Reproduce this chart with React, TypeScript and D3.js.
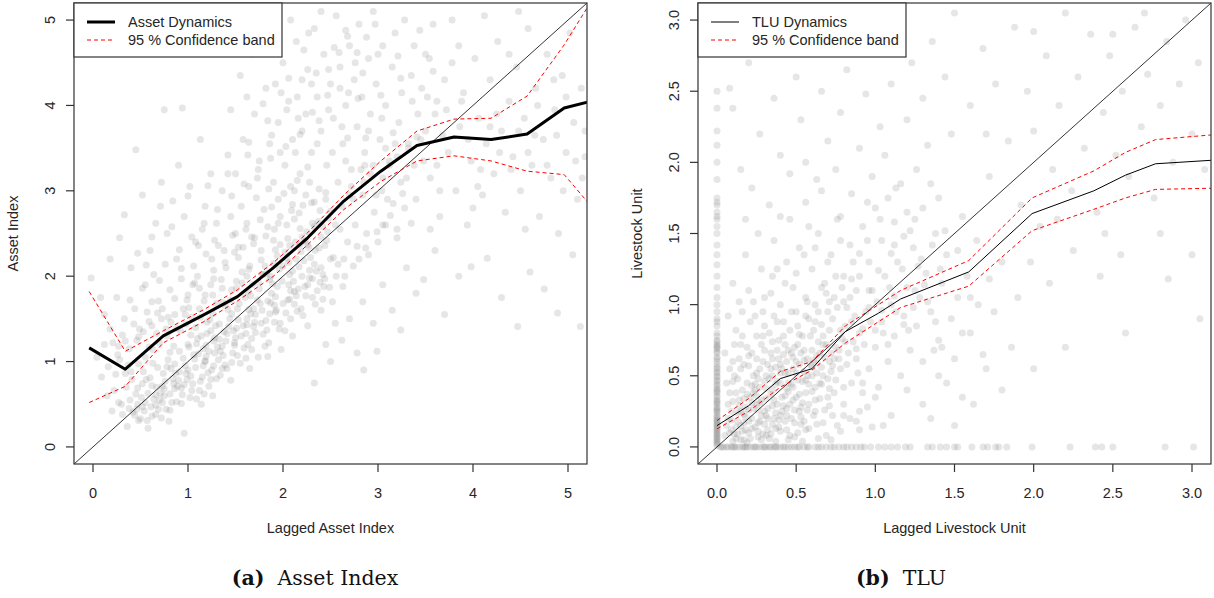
import React from 'react';
import * as d3 from 'd3';

type Pt = [number, number];

// ---------- Panel (a): Asset Index ----------
const assetTicks = [0, 1, 2, 3, 4, 5];
const assetGridX = [-0.04, 0.34, 0.74, 1.17, 1.52, 1.9, 2.26, 2.64, 3.03, 3.41, 3.8, 4.19, 4.57, 4.96, 5.35];
const assetMean = [1.16, 0.91, 1.3, 1.55, 1.76, 2.1, 2.45, 2.88, 3.23, 3.53, 3.63, 3.6, 3.665, 3.97, 4.08];
const assetUpper = [1.82, 1.12, 1.36, 1.61, 1.84, 2.16, 2.51, 2.95, 3.35, 3.7, 3.84, 3.85, 4.11, 4.71, 5.41];
const assetLower = [0.52, 0.71, 1.22, 1.47, 1.71, 2.0, 2.37, 2.78, 3.11, 3.35, 3.41, 3.35, 3.23, 3.19, 2.68];

const assetPointsA: Pt[] = [
  [0.36,0.24],[0.42,0.41],[0.5,0.33],[0.55,0.52],[0.61,0.47],[0.58,0.63],[0.66,0.38],[0.7,0.55],[0.73,0.71],[0.77,0.44],[0.81,0.62],[0.84,0.8],[0.88,0.53],[0.93,0.69],[0.96,0.16],[0.98,0.86],[1.02,0.58],[1.05,0.74],[1.08,0.93],[1.12,0.66],[1.15,0.82],[1.18,1.0],[1.22,0.71],[1.25,0.9],[1.28,1.1],[0.45,0.62],[0.52,0.74],[0.6,0.81],[0.68,0.93],[0.74,0.86],[0.79,1.02],[0.86,0.97],[0.91,1.12],[0.95,1.04],[1.0,1.2],[1.06,1.08],[1.1,1.27],[1.16,1.15],[1.2,1.33],[1.27,1.24],[0.3,0.5],[0.35,0.7],[0.4,0.88],[0.48,0.97],[0.55,1.05],[0.63,1.14],[0.7,1.22],[0.78,1.3],[0.85,1.18],[0.92,1.36],[0.98,1.44],[1.04,1.52],[0.24,0.85],[0.28,1.02],[0.38,1.15],[0.46,1.25],[0.53,1.35],[0.62,1.42],[0.72,1.5],[0.82,1.46],[0.15,0.6],[0.2,0.42],[0.12,1.2],[0.18,1.38],[0.33,1.5],[0.44,1.62],[0.58,0.22],[0.8,0.3],[0.67,0.7],[0.75,0.6],[0.9,0.78],[1.0,0.9],[0.86,0.68],[0.72,0.34],[1.14,0.5],[1.26,0.6],[1.3,0.8],[0.64,0.56],[0.54,0.42],[0.47,0.5],
  [1.32,1.02],[1.36,1.18],[1.38,1.35],[1.41,0.92],[1.44,1.5],[1.47,1.1],[1.5,1.28],[1.52,1.62],[1.55,0.98],[1.58,1.42],[1.6,1.75],[1.63,1.2],[1.66,1.56],[1.68,1.9],[1.71,1.34],[1.74,1.05],[1.76,1.68],[1.79,2.02],[1.82,1.48],[1.85,1.22],[1.88,1.8],[1.9,2.15],[1.93,1.6],[1.96,1.38],[1.99,1.94],[2.02,2.28],[2.05,1.72],[2.08,1.5],[2.1,2.06],[2.13,2.4],[2.16,1.85],[2.19,1.62],[2.22,2.18],[2.25,2.52],[2.28,1.98],[2.31,1.75],[2.34,2.3],[2.37,2.64],[2.4,2.1],[2.43,1.88],[2.46,2.42],[2.5,2.76],[2.53,2.22],[2.56,2.0],[2.6,2.55],
  [1.12,1.62],[1.18,1.78],[1.24,1.9],[1.3,1.68],[1.35,1.96],[1.4,2.1],[1.46,1.84],[1.53,2.22],[1.58,2.34],[1.64,2.08],[1.7,2.45],[1.77,2.3],[1.84,2.58],[1.9,2.42],[1.97,2.7],[2.04,2.6],[2.1,2.84],[2.17,2.74],[2.24,2.95],[2.3,2.86],[2.38,3.02],[2.45,2.9],[1.08,1.4],[1.14,1.3],[1.2,1.46],[1.26,1.56],[1.33,1.44],[1.39,1.66],[1.45,1.72],[1.51,1.86],[1.57,1.92],[1.62,2.0],[1.69,1.62],[1.75,1.85],[1.81,2.12],[1.87,2.0],[1.94,2.24],[2.0,2.12],[2.07,2.36],[2.14,2.2],[2.2,2.46],[2.27,2.34],[2.33,2.58],[2.4,2.46],[2.48,2.68],[2.55,2.6],
  [1.22,1.12],[1.28,1.28],[1.34,0.84],[1.4,1.24],[1.48,1.36],[1.56,1.3],[1.62,1.5],[1.7,1.46],[1.78,1.6],[1.86,1.56],[1.92,1.76],[2.0,1.68],[2.06,1.9],[2.12,1.82],[2.2,2.0],[2.26,1.9],[2.35,2.06],[2.42,2.02],[2.5,2.2],[2.58,2.14],[1.16,0.95],[1.45,0.78],[1.65,0.92],[1.84,1.06],[1.98,1.14],[2.1,1.3],[2.26,1.42],[2.4,1.6],[2.52,1.7],[1.38,2.3],[1.5,2.5],[1.62,2.62],[1.8,2.78],[1.95,2.9],[2.08,3.05],[1.25,2.2],[1.1,2.0],[1.0,1.78],[0.95,1.62],[1.05,1.9],[1.28,2.42],[1.45,2.7],[1.72,2.92],[1.56,2.82],
  [-0.02,1.98],[0.08,1.75],[0.18,2.2],[0.33,2.72],[0.45,3.48],[0.52,2.95],[0.28,2.45],[0.6,2.3],[0.66,2.62],[0.72,3.1],[0.78,2.5],[0.84,2.88],[0.9,3.3],[0.96,2.7],[1.02,3.05],[1.08,2.4],[1.13,3.6],[1.18,2.82],[1.24,3.2],[0.75,3.95],[0.94,3.97],[1.3,2.62],[1.36,3.0],[1.42,3.42],[0.4,2.1],[0.55,1.9],[0.7,1.95],[0.25,1.75],[0.12,1.55],[0.62,1.7],[0.88,2.2],[1.15,2.55],
  [1.5,3.2],[1.58,3.6],[1.64,3.05],[1.7,3.9],[1.75,3.35],[1.82,4.2],[1.86,3.55],[1.9,3.1],[1.95,3.8],[2.0,4.5],[2.02,3.3],[2.06,4.05],[2.1,3.6],[2.14,4.75],[2.18,3.2],[2.2,4.3],[2.24,3.9],[2.26,4.42],[2.3,3.45],[2.33,4.9],[2.36,4.1],[2.4,3.7],[2.43,4.6],[2.46,3.3],[2.5,4.25],[2.53,3.85],[2.56,5.05],[2.6,4.45],[2.63,3.55],[2.66,4.0],[2.68,4.81],[2.7,4.7],[2.72,3.25],[2.75,4.3],[2.78,3.75],[2.8,4.95],[2.83,4.1],[2.86,3.45],[2.9,4.55],[2.92,3.9],[2.95,5.1],[2.98,4.25],[3.02,3.6],[3.05,4.7],[3.08,4.0],[3.12,3.35],[3.15,4.45],[3.18,4.85],[3.22,3.8],[3.25,4.15],[3.28,5.0],[3.32,3.55],[3.35,4.35],[3.38,4.7],[3.42,3.9],[3.46,4.2],[3.5,3.7],[3.54,4.55],[3.58,4.95],[3.62,4.05],
  [1.55,4.35],[1.68,4.6],[1.78,4.85],[1.92,4.25],[2.08,5.0],[2.22,4.65],[2.4,5.1],[1.45,3.95],[1.62,4.1],[2.12,3.0],[2.28,3.1],[2.45,2.98],[2.58,3.1],[2.7,2.95],[2.85,3.1],[2.95,3.3],[3.05,3.15],[2.62,3.75],[2.76,4.5],[2.88,4.8],[3.0,4.6],[2.54,4.68],[2.66,4.88],[2.78,4.62],[2.48,3.95],[2.36,3.55],[2.2,3.7],[2.04,3.95],[1.88,3.65],[1.98,4.15],[2.15,4.1],[2.3,4.25],[2.6,4.2],[2.9,3.7],[3.2,3.4],[3.38,3.3],
  [3.4,2.9],[3.45,3.6],[3.5,4.6],[3.55,3.15],[3.6,3.9],[3.65,2.7],[3.7,4.3],[3.74,3.45],[3.78,5.0],[3.82,3.0],[3.86,3.75],[3.9,4.15],[3.94,2.6],[3.98,3.35],[4.02,4.55],[4.06,3.85],[4.1,2.95],[4.14,3.55],[4.18,4.3],[4.22,3.2],[4.26,4.75],[4.3,3.7],[4.34,2.75],[4.38,4.05],[4.42,3.4],[4.46,4.45],[4.5,3.0],[4.54,3.85],[4.58,4.9],[4.62,3.3],[4.66,4.2],[4.7,2.7],[4.74,3.6],[4.78,4.6],[4.82,3.15],[4.86,3.95],[4.9,2.5],[4.94,4.35],[4.98,3.45],[5.02,4.85],[5.06,3.8],[5.1,2.9],[5.14,4.2],[5.18,3.4],[3.62,3.3],[3.95,3.6],[4.25,3.9],[4.0,2.8],[4.4,3.25],[4.65,3.65],[3.85,4.7],[4.12,5.05],[4.48,5.1],[3.52,4.1],[3.72,3.95],[4.85,4.3],[5.15,3.15],[4.95,3.0],[4.55,2.55],
  [2.33,0.75],[2.5,1.0],[2.62,1.25],[2.78,1.1],[2.85,0.9],[2.99,1.12],[2.7,1.5],[2.84,1.7],[2.95,1.45],[3.05,1.9],[3.15,1.6],[3.24,1.37],[3.3,2.1],[3.4,1.8],[3.48,1.96],[3.6,2.3],[3.7,1.55],[3.85,2.0],[3.98,2.11],[4.15,2.21],[4.3,1.75],[4.47,1.41],[4.6,2.05],[4.75,1.85],[4.89,1.57],[5.13,1.41],[5.05,2.25],[3.2,2.45],[2.9,2.25],[2.65,2.0],[2.78,2.35],[3.05,2.6],[3.35,2.62],[2.55,1.45],[2.45,1.2],[3.55,2.55],
  [2.62,2.82],[2.68,2.4],[2.72,3.05],[2.76,2.6],[2.8,2.2],[2.84,2.95],[2.88,2.5],[2.92,3.2],[2.96,2.75],[3.0,2.4],[3.04,3.0],[3.08,2.6],[3.12,3.3],[3.16,2.85],[3.2,2.55],[3.24,3.1],[3.28,2.8],[3.32,3.5],[2.64,2.2],[2.74,2.9],[2.86,3.3],[2.98,2.95],[3.1,2.9],[3.18,3.55],
];
const assetPointsB: Pt[] = [
  [0.57,0.31],[0.83,0.52],[0.69,0.44],[1.13,0.77],[0.94,0.61],[1.37,1.07],[1.21,0.87],[1.59,1.16],[1.46,0.99],[1.83,1.37],[1.67,1.27],[2.03,1.57],[1.91,1.46],[2.24,1.77],[2.12,1.67],[2.44,1.97],[2.36,1.83],[0.62,0.72],[0.87,0.86],[1.07,1.03],[1.33,1.26],[1.53,1.49],[1.73,1.72],[1.94,1.88],[2.17,2.11],[2.38,2.33],[0.51,0.58],[0.76,0.77],[0.97,0.95],[1.19,1.19],[1.43,1.41],[1.64,1.61],[1.87,1.69],[2.07,2.02],[2.29,2.22],[0.44,0.37],[0.66,0.61],[0.91,0.88],[1.11,1.09],[1.31,1.17],[1.51,1.39],[1.71,1.55],[1.89,1.91],[2.11,1.94],[2.33,2.14],
  [0.41,0.79],[0.63,0.98],[0.81,1.11],[1.03,1.31],[1.23,1.49],[1.42,1.61],[1.63,1.82],[1.83,2.03],[2.04,2.21],[2.23,2.41],[2.42,2.58],[0.37,0.96],[0.59,1.17],[0.77,1.38],[0.97,1.55],[1.17,1.71],[1.36,1.86],[1.57,2.05],[1.77,2.19],[1.97,2.37],[2.18,2.56],[2.39,2.77],[0.27,1.18],[0.49,1.38],[0.68,1.57],[0.86,1.74],[1.07,1.92],[1.27,2.07],[1.49,2.28],[1.69,2.38],[1.91,2.55],[2.12,2.67],[2.33,2.87],
  [0.73,0.52],[0.96,0.73],[1.17,0.62],[1.39,0.96],[1.61,1.04],[1.81,1.18],[2.02,1.36],[2.21,1.54],[2.42,1.73],[2.63,1.88],[2.74,2.12],[2.87,2.33],[2.99,2.52],[3.13,2.71],[3.26,2.97],[0.53,0.88],[0.78,0.94],[1.01,1.17],[1.24,1.36],[1.46,1.56],[1.66,1.77],[1.86,1.96],[2.06,2.16],[2.26,2.37],[2.47,2.52],
  [0.31,0.38],[0.39,0.55],[0.47,0.69],[0.34,0.86],[0.22,0.66],[0.27,0.52],[0.16,0.94],[0.09,0.82],[0.04,1.05],[0.21,1.22],
  [1.73,3.15],[1.97,3.45],[2.16,3.85],[2.35,4.38],[2.52,3.45],[2.69,4.15],[2.87,3.62],[3.03,4.12],[3.21,4.58],[3.41,3.63],[1.84,3.82],[2.06,4.32],[2.27,4.85],[2.47,4.12],[2.66,3.35],[2.84,4.38],[3.04,3.85],[3.24,4.32],[3.44,4.88],[2.38,3.82],[2.59,4.62],[2.79,4.08],[2.97,4.95],[3.16,3.68],[3.36,4.05],[1.63,3.42],[1.79,4.02],[1.93,4.62],[2.13,3.45],[2.31,3.92],[2.48,4.42],[2.68,3.62],[2.82,3.25],[3.08,3.5],[3.3,3.15],
  [3.48,3.35],[3.68,3.65],[3.88,4.05],[4.08,3.25],[4.28,3.45],[4.48,3.7],[4.68,4.0],[4.88,3.65],[5.08,3.35],[3.58,4.4],[3.78,4.5],[4.18,3.75],[4.38,4.6],[4.58,3.45],[4.78,3.3],[4.98,4.1],[5.18,3.7],[3.65,3.0],[4.05,3.05],
  [0.66,0.49],[0.89,0.71],[1.04,0.66],[1.27,0.95],[1.49,1.19],[1.69,1.41],[1.92,1.58],[2.14,1.77],[2.31,1.97],[0.46,0.44],[0.75,0.68],[0.99,0.79],[1.19,1.06],[1.41,1.33],[1.62,1.43],[1.84,1.71],[2.08,1.83],[2.28,2.07],[0.56,0.79],[0.82,0.92],[1.09,1.21],[1.29,1.42],[1.54,1.68],[1.74,1.93],[1.96,2.08],[2.19,2.29],[2.44,2.36],
];
const assetPointsC: Pt[] = [
  [0.31,1.31],[0.43,1.44],[0.57,1.58],[0.69,1.71],[0.81,1.84],[0.93,1.97],[1.06,2.12],[1.19,2.26],[1.32,2.36],[1.47,2.48],[1.61,2.55],[1.76,2.66],[1.88,2.81],[2.01,2.97],[2.15,3.12],[2.26,3.28],
  [0.39,1.72],[0.52,1.86],[0.64,2.02],[0.76,2.14],[0.91,2.31],[1.04,2.46],[1.17,2.62],[1.31,2.78],[1.46,2.94],[1.59,3.08],[1.74,3.25],[1.87,3.38],[2.03,3.52],[2.18,3.66],
  [0.26,1.08],[0.34,1.24],[0.48,1.29],[0.59,1.47],[0.73,1.62],[0.86,1.55],[0.99,1.72],[1.12,1.86],[1.27,1.97],[1.39,2.16],[1.53,2.34],[1.67,2.46],[1.82,2.47],[1.95,2.62],[2.09,2.77],[2.21,2.83],
  [0.67,1.33],[0.79,1.52],[0.88,1.39],[1.01,1.63],[1.13,1.52],[1.26,1.78],[1.37,1.69],[1.51,1.94],[1.65,2.12],[1.78,2.02],[1.92,2.31],[2.05,2.44],[2.18,2.37],[2.31,2.62],
  [0.47,2.27],[0.62,2.46],[0.83,2.58],[1.0,2.94],[1.21,3.06],[1.42,3.2],[1.64,3.57],[1.85,3.02],[1.11,2.36],[0.71,2.82],[0.56,2.13],[0.93,2.09],
  [0.48,0.31],[0.62,0.36],[0.81,0.43],[0.93,0.51],[1.09,0.56],[1.24,0.79],[1.36,0.92],[1.52,1.07],[1.67,1.14],[1.79,1.32],[1.97,1.45],[2.15,1.59],[2.34,1.67],[2.49,1.87],[0.38,0.45],[0.52,0.47],[0.71,0.63],[0.85,0.74],[1.03,0.83],[1.18,1.01],[1.34,1.12],[1.49,1.22],[1.61,1.33],[1.77,1.45],[1.91,1.66],[2.07,1.73],[2.23,1.88],[2.39,1.93],
];
const assetPoints: Pt[] = [...assetPointsA, ...assetPointsB, ...assetPointsC];

// ---------- Panel (b): TLU ----------
const tluTicks = [0, 0.5, 1, 1.5, 2, 2.5, 3];
const tluGridX = [0.0, 0.2, 0.4, 0.6, 0.81, 1.02, 1.16, 1.59, 1.99, 2.38, 2.58, 2.77, 3.2];
const tluMean = [0.15, 0.29, 0.48, 0.55, 0.81, 0.94, 1.04, 1.23, 1.64, 1.8, 1.91, 1.99, 2.02];
const tluUpper = [0.185, 0.34, 0.53, 0.6, 0.85, 1.0, 1.1, 1.31, 1.75, 1.94, 2.07, 2.16, 2.2];
const tluLower = [0.127, 0.25, 0.42, 0.54, 0.73, 0.88, 0.98, 1.13, 1.52, 1.67, 1.75, 1.81, 1.82];

// households with zero lagged livestock (x = 0)
const tluZeroLagY = [0.02,0.05,0.08,0.1,0.12,0.15,0.18,0.2,0.22,0.25,0.28,0.3,0.33,0.36,0.38,0.41,0.44,0.47,0.5,0.53,0.56,0.6,0.63,0.67,0.7,0.72,0.75,0.8,0.85,0.9,0.95,1.0,1.05,1.12,1.2,1.28,1.35,1.42,1.5,1.55,1.6,1.65,1.7,1.75,1.88,2.0,2.12,2.22,2.38,2.5,0.04,0.07,0.11,0.14,0.19,0.24,0.31,0.35,0.43,0.52,0.58,0.66,0.71,0.78,0.88,1.62,1.72,0.01,0.06,0.09,0.13,0.17,0.21,0.27,0.32,0.4,0.46,0.55,0.62,0.69,0.74,0.03,0.16,0.26,0.39,0.49];
// households with zero current livestock (y = 0)
const tluZeroNowX = [0.03,0.06,0.1,0.12,0.16,0.19,0.21,0.25,0.27,0.31,0.34,0.36,0.4,0.43,0.45,0.49,0.52,0.55,0.58,0.62,0.66,0.69,0.72,0.77,0.8,0.85,0.88,0.93,0.97,1.02,1.06,1.1,1.14,0.04,0.09,0.14,0.18,0.23,0.29,0.33,0.38,0.47,1.19,1.22,1.33,1.36,1.41,1.45,1.5,1.52,1.61,1.68,1.71,1.76,1.78,1.83,1.99,2.23,2.39,2.43,2.5,2.83,3.01,0.02,0.07,0.11,0.17,0.24,0.3,0.37,0.42,0.51,0.57,0.64,0.74,0.82,0.91];
const tluCloudA: Pt[] = [
  [0.05,0.08],[0.07,0.2],[0.09,0.12],[0.1,0.32],[0.12,0.06],[0.13,0.24],[0.15,0.15],[0.16,0.4],[0.17,0.05],[0.18,0.28],[0.2,0.1],[0.21,0.35],[0.22,0.2],[0.23,0.5],[0.24,0.14],[0.25,0.3],[0.26,0.07],[0.27,0.42],[0.28,0.22],[0.29,0.6],[0.3,0.16],[0.31,0.34],[0.32,0.27],[0.33,0.48],[0.34,0.09],[0.35,0.4],[0.36,0.2],[0.37,0.56],[0.38,0.3],[0.39,0.14],[0.4,0.45],[0.41,0.25],[0.42,0.65],[0.43,0.36],[0.44,0.12],[0.45,0.52],[0.46,0.3],[0.47,0.2],[0.48,0.42],[0.49,0.7],[0.5,0.35],[0.51,0.1],[0.52,0.58],[0.53,0.28],[0.54,0.46],[0.55,0.18],[0.56,0.38],[0.57,0.62],[0.58,0.3],[0.6,0.5],[0.61,0.22],[0.62,0.42],[0.64,0.74],[0.65,0.34],[0.66,0.56],[0.68,0.26],[0.7,0.48],[0.72,0.66],[0.74,0.38],[0.76,0.15],[0.78,0.55],[0.8,0.3],
  [0.06,0.45],[0.08,0.55],[0.11,0.5],[0.14,0.62],[0.17,0.58],[0.19,0.7],[0.22,0.66],[0.25,0.78],[0.28,0.72],[0.3,0.85],[0.33,0.8],[0.36,0.92],[0.39,0.75],[0.42,0.88],[0.46,0.82],[0.5,0.95],[0.54,0.78],[0.58,0.9],[0.62,1.0],[0.66,0.86],[0.7,0.95],[0.74,1.05],[0.78,0.82],[0.82,0.98],
  [0.07,0.3],[0.12,0.38],[0.19,0.45],[0.24,0.4],[0.27,0.55],[0.31,0.5],[0.35,0.62],[0.38,0.68],[0.41,0.55],[0.44,0.6],[0.47,0.66],[0.51,0.72],[0.55,0.68],[0.59,0.78],[0.63,0.64],[0.67,0.72],[0.71,0.82],[0.75,0.7],[0.79,0.76],[0.83,0.66],
  [0.15,0.25],[0.2,0.18],[0.26,0.26],[0.32,0.12],[0.37,0.24],[0.43,0.18],[0.49,0.26],[0.56,0.12],[0.63,0.16],[0.69,0.08],[0.73,0.22],[0.84,0.2],[0.9,0.12],[0.95,0.28],
  [0.85,0.45],[0.88,0.62],[0.9,0.8],[0.92,0.38],[0.94,0.95],[0.96,0.55],[0.98,1.1],[1.0,0.7],[1.02,0.42],[1.04,0.88],[1.06,1.2],[1.08,0.6],[1.1,1.0],[1.12,0.78],[1.14,1.3],[1.16,0.5],[1.18,0.92],[1.2,1.12],[1.22,0.68],[1.24,1.4],[1.26,0.85],[1.28,1.05],[1.3,0.6],[1.32,1.22],[1.35,0.95],[1.38,1.5],[1.4,0.75],[1.42,1.15],[1.45,1.35],[1.48,0.9],
  [0.3,1.05],[0.35,1.2],[0.4,1.0],[0.44,1.3],[0.48,1.12],[0.52,1.4],[0.56,1.05],[0.6,1.25],[0.64,1.5],[0.68,1.15],[0.72,1.35],[0.76,1.6],[0.8,1.2],[0.84,1.42],[0.88,1.1],[0.92,1.55],[0.96,1.3],[1.0,1.68],[1.04,1.45],[1.08,1.75],[1.12,1.58],[1.16,1.85],[1.2,1.65],
  [0.12,0.82],[0.16,0.95],[0.2,1.1],[0.24,0.92],[0.28,1.25],[0.18,1.35],[0.1,1.15],[0.26,1.5],[0.36,1.45],[0.46,1.6],[0.56,1.72],[0.66,1.8],
  [0.9,0.25],[1.0,0.35],[1.1,0.22],[1.2,0.4],[1.3,0.3],[1.05,0.15],[1.4,0.5],[1.5,0.62],[1.55,0.35],[1.6,0.8],[1.65,1.0],[1.7,0.55],[1.58,1.2],[1.52,1.05],
  [0.08,2.52],[0.1,2.38],[0.15,1.95],[0.2,2.7],[0.22,1.82],[0.27,2.2],[0.3,2.95],[0.33,1.7],[0.36,2.45],[0.4,2.05],[0.43,2.88],[0.46,1.92],[0.5,2.6],[0.53,2.3],[0.56,2.0],[0.6,2.78],[0.63,1.88],[0.66,2.5],[0.7,2.15],[0.72,3.0],[0.75,1.95],[0.78,2.35],[0.82,2.65],[0.85,1.78],[0.88,2.9],[0.9,2.1],[0.94,2.48],[0.98,1.9],[1.0,2.8],[1.03,2.25],[1.06,2.05],[1.1,2.55],[1.13,1.82],[1.16,2.95],[1.2,2.3],[1.23,2.7],[1.26,1.95],[1.3,2.45],[1.33,2.12],[1.36,2.85],[1.4,1.75],[1.44,2.6],[1.48,2.2],[1.5,3.05],[0.58,1.55],[0.78,1.62],[0.95,1.72],[1.25,1.6],[1.35,1.85],[0.4,1.62],[0.18,1.6],
  [1.55,1.62],[1.6,2.4],[1.64,1.45],[1.68,2.8],[1.72,1.9],[1.76,2.55],[1.8,1.3],[1.84,2.15],[1.88,2.95],[1.92,1.7],[1.96,2.5],[2.0,2.22],[2.04,1.55],[2.08,2.75],[2.12,1.95],[2.16,2.4],[2.2,3.05],[2.24,1.8],[2.28,2.6],[2.32,2.1],[2.36,2.9],[2.4,1.65],[2.44,2.35],[2.48,2.75],[2.52,2.05],[2.56,2.5],[2.6,1.9],[2.64,2.95],[2.68,2.25],[2.72,2.62],[2.76,1.75],[2.8,2.4],[2.84,2.85],[2.88,2.0],[2.92,2.55],[2.96,3.0],[3.0,2.2],[3.04,2.7],[3.08,1.95],[2.7,3.05],[2.5,2.9],[2.0,2.92],[1.7,2.2],[2.15,1.6],[2.45,1.5],
  [1.35,0.2],[1.45,0.45],[1.5,0.15],[1.55,0.8],[1.62,0.3],[1.68,0.65],[1.75,0.95],[1.8,0.4],[1.86,0.7],[1.9,1.05],[2.0,0.55],[2.1,1.15],[2.2,0.7],[2.42,1.2],[2.58,0.8],[2.85,1.18],[3.05,0.9],[1.72,1.18],[1.98,1.3],[2.25,1.38],[2.55,1.35],[2.8,1.5],[3.0,1.35],[1.42,0.7],[1.6,1.05],
];
const tluCloudB: Pt[] = [
  [0.06,0.15],[0.09,0.25],[0.11,0.09],[0.13,0.18],[0.14,0.33],[0.16,0.11],[0.18,0.21],[0.19,0.37],[0.21,0.06],[0.23,0.27],[0.24,0.44],[0.26,0.17],[0.28,0.33],[0.29,0.09],[0.31,0.41],[0.32,0.2],[0.34,0.55],[0.35,0.29],[0.37,0.13],[0.38,0.46],[0.4,0.22],[0.41,0.35],[0.43,0.52],[0.44,0.27],[0.46,0.08],[0.47,0.44],[0.49,0.17],[0.5,0.6],[0.52,0.37],[0.53,0.21],[0.55,0.53],[0.57,0.26],[0.58,0.44],[0.6,0.68],[0.62,0.33],[0.63,0.52],[0.66,0.44],[0.68,0.63],[0.7,0.35],[0.73,0.57],[0.75,0.47],[0.77,0.68],[0.8,0.42],[0.82,0.58],[0.86,0.74],[0.89,0.52],
  [0.08,0.38],[0.1,0.6],[0.13,0.48],[0.15,0.72],[0.17,0.34],[0.2,0.57],[0.22,0.43],[0.25,0.62],[0.27,0.31],[0.3,0.68],[0.32,0.58],[0.35,0.74],[0.37,0.44],[0.39,0.62],[0.42,0.78],[0.45,0.68],[0.48,0.55],[0.51,0.85],[0.53,0.66],[0.56,0.92],[0.59,0.58],[0.61,0.82],[0.64,0.95],[0.67,0.78],[0.69,1.08],[0.71,0.6],[0.73,0.9],[0.76,0.98],[0.79,1.12],[0.81,0.85],[0.84,1.05],[0.87,0.92],[0.9,1.2],[0.93,0.72],[0.97,0.88],[1.01,1.02],[1.05,0.8],[1.09,1.12],[1.13,0.95],[1.17,1.25],[1.21,0.82],[1.25,1.1],[1.29,1.32],[1.33,1.02],[1.37,0.68],[1.41,1.25],
  [0.05,0.66],[0.07,0.92],[0.11,0.72],[0.14,1.02],[0.16,0.78],[0.21,0.88],[0.23,1.02],[0.29,0.95],[0.34,1.08],[0.38,1.25],[0.43,1.15],[0.5,1.22],[0.55,1.35],[0.62,1.4],[0.7,1.3],[0.78,1.45],[0.86,1.3],[0.95,1.45],[1.03,1.6],[1.12,1.42],[1.22,1.52],[1.3,1.68],[1.44,1.52],[1.52,1.38],
  [0.1,0.04],[0.19,0.03],[0.28,0.05],[0.37,0.04],[0.45,0.05],[0.54,0.04],[0.64,0.06],[0.72,0.05],[0.15,0.05],[0.33,0.06],
  [0.12,0.14],[0.17,0.23],[0.22,0.31],[0.27,0.18],[0.3,0.25],[0.34,0.37],[0.39,0.19],[0.42,0.29],[0.45,0.39],[0.48,0.33],[0.51,0.47],[0.54,0.31],[0.57,0.5],[0.6,0.39],[0.63,0.59],[0.67,0.5],[0.71,0.41],[0.74,0.62],[0.2,0.26],[0.25,0.36],[0.3,0.46],[0.35,0.5],[0.4,0.58],[0.45,0.45],[0.5,0.52],[0.55,0.61],[0.6,0.56],[0.65,0.66],
];
const tluCloudC: Pt[] = [
  [0.09,0.19],[0.14,0.29],[0.18,0.12],[0.23,0.38],[0.26,0.48],[0.31,0.22],[0.36,0.33],[0.4,0.52],[0.44,0.41],[0.48,0.63],[0.52,0.25],[0.56,0.47],[0.61,0.61],[0.65,0.45],[0.69,0.72],[0.72,0.53],[0.77,0.62],[0.81,0.74],[0.85,0.88],[0.88,0.69],[0.92,0.83],[0.96,0.98],[1.0,0.82],[1.04,0.96],[1.08,0.72],[1.12,1.06],[1.18,0.86],[1.24,0.98],[1.31,1.14],[1.38,0.88],
  [0.1,0.46],[0.15,0.55],[0.2,0.64],[0.25,0.52],[0.29,0.78],[0.34,0.66],[0.38,0.88],[0.43,0.72],[0.47,0.95],[0.52,0.79],[0.57,1.02],[0.62,0.88],[0.66,1.12],[0.71,1.02],[0.75,1.2],[0.8,1.02],[0.85,1.18],[0.9,1.36],[0.96,1.1],[1.02,1.24],[1.1,1.36],[1.18,1.48],[1.27,1.27],[1.36,1.42],
  [0.13,0.09],[0.22,0.13],[0.31,0.08],[0.4,0.11],[0.49,0.07],[0.58,0.13],[0.67,0.17],[0.78,0.11],[0.88,0.18],[0.98,0.14],[0.08,0.1],[0.17,0.17],[0.26,0.11],[0.35,0.16],[0.44,0.22],[0.53,0.16],[0.62,0.25],[0.71,0.29],[0.8,0.22],[0.92,0.45],
];
const tluPoints: Pt[] = [
  ...tluZeroLagY.map((v) => [0, v] as Pt),
  ...tluZeroNowX.map((v) => [v, 0] as Pt),
  ...tluCloudA,
  ...tluCloudB,
  ...tluCloudC,
];

const FONT = '"Liberation Sans", Arial, Helvetica, sans-serif';
const SERIF = '"DejaVu Serif", "Liberation Serif", serif';
const INK = '#262626';

interface PanelProps {
  id: string;
  left: number;
  right: number;
  top: number;
  bottom: number;
  domain: [number, number];
  ticks: number[];
  fmt: (v: number) => string;
  points: Pt[];
  gridX: number[];
  mean: number[];
  upper: number[];
  lower: number[];
  meanWidth: number;
  legendLabel: string;
  legendWidth: number;
  xTitle: string;
  yTitle: string;
  tag: string;
  caption: string;
  captionX: number;
}

function Panel(p: PanelProps) {
  const x = d3.scaleLinear().domain(p.domain).range([p.left, p.right]);
  const y = d3.scaleLinear().domain(p.domain).range([p.bottom, p.top]);
  const mk = (vals: number[]) =>
    d3
      .line<number>()
      .x((_, i) => x(p.gridX[i]))
      .y((d) => y(d))(vals) || '';
  const clipId = `clip-${p.id}`;
  const midX = (p.left + p.right) / 2;
  const midY = (p.top + p.bottom) / 2;
  const lgTop = p.top;
  const lgBottom = p.top + 54;
  const row1 = p.top + 19;
  const row2 = p.top + 37;
  return (
    <g>
      <defs>
        <clipPath id={clipId}>
          <rect x={p.left} y={p.top} width={p.right - p.left} height={p.bottom - p.top} />
        </clipPath>
      </defs>
      <g clipPath={`url(#${clipId})`}>
        {p.points.map((d, i) => (
          <circle key={i} cx={x(d[0])} cy={y(d[1])} r={3.5} fill="#777" fillOpacity={0.18} />
        ))}
        <line
          x1={x(p.domain[0])}
          y1={y(p.domain[0])}
          x2={x(p.domain[1])}
          y2={y(p.domain[1])}
          stroke="#000"
          strokeWidth={0.8}
        />
        <path d={mk(p.upper)} fill="none" stroke="#ff0000" strokeWidth={1} strokeDasharray="4,3" />
        <path d={mk(p.lower)} fill="none" stroke="#ff0000" strokeWidth={1} strokeDasharray="4,3" />
        <path d={mk(p.mean)} fill="none" stroke="#000" strokeWidth={p.meanWidth} strokeLinejoin="round" />
      </g>
      <rect
        x={p.left}
        y={p.top}
        width={p.right - p.left}
        height={p.bottom - p.top}
        fill="none"
        stroke="#333"
        strokeWidth={1.2}
      />
      {p.ticks.map((t) => (
        <g key={`x${t}`}>
          <line x1={x(t)} x2={x(t)} y1={p.bottom} y2={p.bottom + 8} stroke="#333" strokeWidth={1.2} />
          <text x={x(t)} y={p.bottom + 34} textAnchor="middle" fontFamily={FONT} fontSize={14.5} fill={INK}>
            {p.fmt(t)}
          </text>
        </g>
      ))}
      {p.ticks.map((t) => (
        <g key={`y${t}`}>
          <line x1={p.left - 8} x2={p.left} y1={y(t)} y2={y(t)} stroke="#333" strokeWidth={1.2} />
          <text
            transform={`translate(${p.left - 19},${y(t)}) rotate(-90)`}
            textAnchor="middle"
            fontFamily={FONT}
            fontSize={14.5}
            fill={INK}
          >
            {p.fmt(t)}
          </text>
        </g>
      ))}
      <text x={midX} y={p.bottom + 69} textAnchor="middle" fontFamily={FONT} fontSize={14.5} fill={INK}>
        {p.xTitle}
      </text>
      <text
        transform={`translate(${p.left - 56},${midY}) rotate(-90)`}
        textAnchor="middle"
        fontFamily={FONT}
        fontSize={14.5}
        fill={INK}
      >
        {p.yTitle}
      </text>
      <rect
        x={p.left}
        y={lgTop}
        width={p.legendWidth}
        height={lgBottom - lgTop}
        fill="#fff"
        stroke="#333"
        strokeWidth={1.2}
      />
      <line x1={p.left + 13} x2={p.left + 41} y1={row1} y2={row1} stroke="#000" strokeWidth={p.meanWidth} />
      <line
        x1={p.left + 13}
        x2={p.left + 41}
        y1={row2}
        y2={row2}
        stroke="#ff0000"
        strokeWidth={1}
        strokeDasharray="4,3"
      />
      <text x={p.left + 54} y={row1 + 5} fontFamily={FONT} fontSize={14.5} fill={INK}>
        {p.legendLabel}
      </text>
      <text x={p.left + 54} y={row2 + 5} fontFamily={FONT} fontSize={14.5} fill={INK}>
        95 % Confidence band
      </text>
      <text x={p.captionX} y={585} textAnchor="middle" fontFamily={SERIF} fontSize={20.5} fill="#111">
        <tspan fontWeight="bold">{p.tag}</tspan>
        <tspan>{'\u00a0\u00a0' + p.caption}</tspan>
      </text>
    </g>
  );
}

export default function App() {
  return (
    <svg
      width={1214}
      height={598}
      viewBox="0 0 1214 598"
      style={{ position: 'absolute', left: 0, top: 0, background: '#fff' }}
    >
      <rect x={0} y={0} width={1214} height={598} fill="#fff" />
      <Panel
        id="asset"
        left={74}
        right={587}
        top={3}
        bottom={464}
        domain={[-0.2, 5.2]}
        ticks={assetTicks}
        fmt={(v) => d3.format('d')(v)}
        points={assetPoints}
        gridX={assetGridX}
        mean={assetMean}
        upper={assetUpper}
        lower={assetLower}
        meanWidth={3}
        legendLabel="Asset Dynamics"
        legendWidth={208}
        xTitle="Lagged Asset Index"
        yTitle="Asset Index"
        tag="(a)"
        caption="Asset Index"
        captionX={315}
      />
      <Panel
        id="tlu"
        left={698}
        right={1211}
        top={3}
        bottom={464}
        domain={[-0.12, 3.12]}
        ticks={tluTicks}
        fmt={(v) => d3.format('.1f')(v)}
        points={tluPoints}
        gridX={tluGridX}
        mean={tluMean}
        upper={tluUpper}
        lower={tluLower}
        meanWidth={1}
        legendLabel="TLU Dynamics"
        legendWidth={208}
        xTitle="Lagged Livestock Unit"
        yTitle="Livestock Unit"
        tag="(b)"
        caption="TLU"
        captionX={901}
      />
    </svg>
  );
}
